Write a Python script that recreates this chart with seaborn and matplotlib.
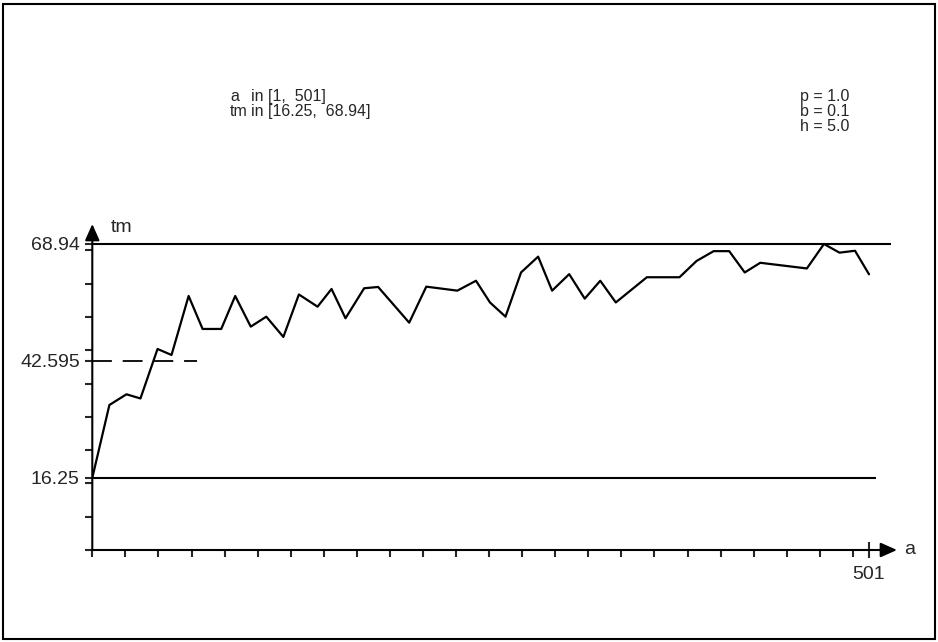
import numpy as np
import matplotlib
matplotlib.use("Agg")
import matplotlib.pyplot as plt
import seaborn as sns
from matplotlib.patches import Rectangle

# ---- data ----
a_vals = [1, 12, 23, 32, 43, 52, 63, 72, 84, 93, 103, 113, 124, 134, 146, 155,
          164, 176, 185, 205, 216, 236, 248, 257, 267, 277, 288, 297, 308, 318,
          328, 338, 358, 379, 390, 401, 411, 421, 431, 461, 472, 482, 492, 501]
tm_vals = [16.25, 32.67, 35.08, 34.14, 45.29, 43.94, 57.23, 49.80, 49.80, 57.23,
           50.32, 52.57, 48.00, 57.57, 54.82, 58.81, 52.21, 58.97, 59.26, 51.22,
           59.33, 58.43, 60.66, 55.77, 52.57, 62.53, 66.09, 58.43, 62.15, 56.63,
           60.66, 55.77, 61.45, 61.45, 65.12, 67.33, 67.33, 62.53, 64.71, 63.43,
           68.94, 66.99, 67.42, 62.12]
tm_min, tm_max = 16.25, 68.94
tm_mid = 42.595
x_end_label = "501"
params = ["p = 1.0", "b = 0.1", "h = 5.0"]
range_names = ["a", "tm"]
range_texts = ["in [1,  501]", "in [16.25,  68.94]"]

sns.set_style("white")
plt.rcParams["font.family"] = ["Liberation Sans", "DejaVu Sans"]

W_PX, H_PX = 938, 642
fig = plt.figure(figsize=(W_PX / 100, H_PX / 100), dpi=100)

# axes box in pixels: origin (92.3, 550), arrow tips x=897, y=224
ox, oy, rx, ty = 92.3, 550.0, 897.0, 224.0
ax = fig.add_axes([ox / W_PX, 1 - oy / H_PX, (rx - ox) / W_PX, (oy - ty) / H_PX])

sns.lineplot(x=a_vals, y=tm_vals, ax=ax, color="black", lw=1.6)

px_per_a = (869.0 - ox) / 500.0
px_per_tm = (oy - 244.0) / tm_max
ax.set_xlim(1, 1 + (rx - ox) / px_per_a)
ax.set_ylim(0, (oy - ty) / px_per_tm)
ax.set_xlabel("")
ax.set_ylabel("")
for s in ax.spines.values():
    s.set_visible(False)

# reference lines
ax.hlines(tm_max, 1, 1 + (891 - ox) / px_per_a, color="black", lw=1.5)
ax.hlines(tm_min, 1, 1 + (876 - ox) / px_per_a, color="black", lw=1.5)
ax.hlines(tm_mid, 1, 1 + (197 - ox) / px_per_a, color="black", lw=1.3,
          linestyles=(0, (11, 6)))

# axes arrows
arrow = dict(arrowstyle="-|>,head_length=0.45,head_width=0.2", color="black",
             lw=1.5, mutation_scale=22, shrinkA=0, shrinkB=0)
ax.annotate("", xy=(0, 1), xytext=(0, 0), xycoords="axes fraction",
            textcoords="axes fraction", arrowprops=arrow, annotation_clip=False)
ax.annotate("", xy=(1, 0), xytext=(0, 0), xycoords="axes fraction",
            textcoords="axes fraction", arrowprops=arrow, annotation_clip=False)

# ticks
yt = [tm_min, tm_mid, tm_max]
ax.set_yticks(yt)
ax.set_yticklabels([f"{v:g}" for v in yt])
ax.set_yticks(np.arange(0, 68, 7.5), minor=True)
ax.set_xticks([501])
ax.set_xticklabels([x_end_label])
ax.set_xticks(1 + np.arange(24) * (33.07 / px_per_a), minor=True)
ax.tick_params(axis="y", which="both", direction="out", length=5, width=1.5,
               labelsize=14, pad=4, left=True)
ax.tick_params(axis="x", which="minor", direction="out", length=5, width=1.5,
               bottom=True)
ax.tick_params(axis="x", which="major", direction="inout", length=11, width=1.5,
               labelsize=14, pad=6, bottom=True)

# axis names
fig.text(111 / W_PX, 1 - 228 / H_PX, "tm", fontsize=14, va="center", ha="left")
fig.text(904 / W_PX, 1 - 549 / H_PX, "a", fontsize=14, va="center", ha="left")

# header texts
for i, (n, t) in enumerate(zip(range_names, range_texts)):
    yb = 1 - (101 + 15 * i) / H_PX
    fig.text(230 / W_PX, yb, n, fontsize=11.5, va="baseline", ha="left")
    fig.text(251 / W_PX, yb, t, fontsize=11.5, va="baseline", ha="left")
for i, t in enumerate(params):
    yb = 1 - (101 + 15 * i) / H_PX
    fig.text(800 / W_PX, yb, t, fontsize=11.5, va="baseline", ha="left")

# outer frame
fig.patches.append(Rectangle((0.003, 0.004), 0.994, 0.99, transform=fig.transFigure,
                             fill=False, lw=1.5, ec="black"))

fig.savefig("out.png", dpi=100)
